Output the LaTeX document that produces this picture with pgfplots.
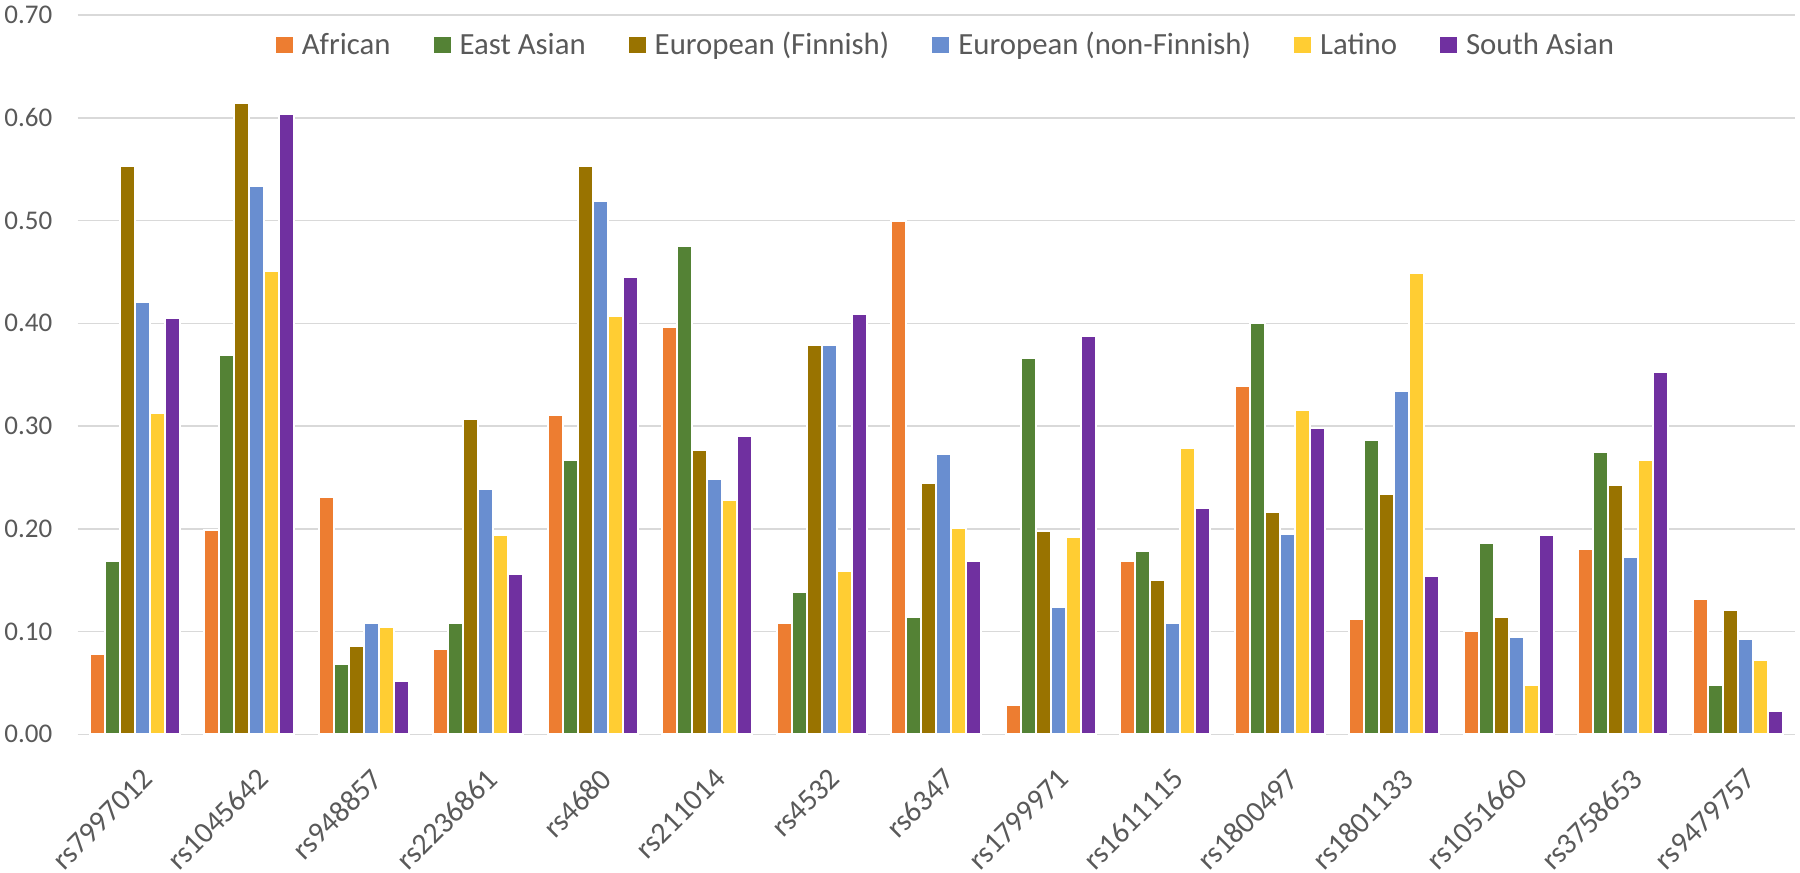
\documentclass[border=0pt]{standalone}
\usepackage{fontspec}
\setmainfont{Carlito}
\usepackage{pgfplots}
\usepackage{pgfplotstable}
\pgfplotsset{compat=1.18}
\definecolor{cAf}{HTML}{ED7D31}
\definecolor{cEa}{HTML}{548235}
\definecolor{cFi}{HTML}{997300}
\definecolor{cNf}{HTML}{698ED0}
\definecolor{cLa}{HTML}{FFCD33}
\definecolor{cSa}{HTML}{7030A0}
\definecolor{gridgray}{HTML}{D9D9D9}
\definecolor{txtgray}{HTML}{595959}
\pgfplotstableread{
x af ea fi nf la sa
0 0.078 0.169 0.553 0.421 0.313 0.405
1 0.199 0.369 0.614 0.534 0.451 0.604
2 0.231 0.068 0.086 0.108 0.104 0.052
3 0.083 0.108 0.307 0.239 0.194 0.156
4 0.311 0.267 0.553 0.519 0.407 0.445
5 0.396 0.475 0.277 0.248 0.228 0.290
6 0.108 0.138 0.379 0.379 0.159 0.409
7 0.500 0.114 0.245 0.273 0.201 0.169
8 0.029 0.366 0.198 0.124 0.192 0.388
9 0.169 0.178 0.150 0.108 0.279 0.220
10 0.339 0.400 0.216 0.195 0.316 0.298
11 0.112 0.286 0.234 0.334 0.449 0.154
12 0.101 0.186 0.114 0.095 0.048 0.194
13 0.180 0.275 0.243 0.173 0.267 0.353
14 0.132 0.048 0.121 0.093 0.072 0.023
}\data
\begin{document}
\begin{tikzpicture}
\path (-38.85pt,-69.35pt) rectangle (861.15pt,367.15pt);
\begin{axis}[
  at={(0,0)}, anchor=south west,
  width=858.65pt, height=359.65pt, scale only axis,
  ybar=0pt, bar width=7.5pt,
  xmin=-0.5, xmax=14.5, ymin=0, ymax=0.7,
  ytick={0,0.1,0.2,0.3,0.4,0.5,0.6,0.7},
  xtick={0,1,2,3,4,5,6,7,8,9,10,11,12,13,14},
  xticklabels={rs7997012,rs1045642,rs948857,rs2236861,rs4680,rs211014,rs4532,rs6347,rs1799971,rs1611115,rs1800497,rs1801133,rs1051660,rs3758653,rs9479757},
  ymajorgrids, grid style={draw=gridgray, line width=0.75pt},
  axis line style={draw=none}, major tick length=0pt,
  yticklabel style={/pgf/number format/fixed, /pgf/number format/fixed zerofill, /pgf/number format/precision=2, /pgf/number format/assume math mode=true, font=\fontsize{13.5}{16}\selectfont, text=txtgray, anchor=east, inner sep=0pt, xshift=-12.5pt},
  xticklabel style={font=\fontsize{15}{18}\selectfont, text=txtgray, inner sep=0pt, xshift=3pt, yshift=-16pt, rotate=45, anchor=north east},
  legend style={at={(0.505,0.958)}, anchor=center, draw=none, fill=none, legend columns=-1, font=\fontsize{15.4}{18}\selectfont, nodes={text=txtgray, inner sep=0pt}, /tikz/every odd column/.append style={column sep=4.5pt}, /tikz/every even column/.append style={column sep=21.5pt}},
  legend image code/.code={\path[#1,draw=none] (0pt,-4pt) rectangle (8.5pt,4pt);},
]
\addplot[fill=cAf, draw=white, line width=1pt] table[x=x,y=af]{\data};
\addplot[fill=cEa, draw=white, line width=1pt] table[x=x,y=ea]{\data};
\addplot[fill=cFi, draw=white, line width=1pt] table[x=x,y=fi]{\data};
\addplot[fill=cNf, draw=white, line width=1pt] table[x=x,y=nf]{\data};
\addplot[fill=cLa, draw=white, line width=1pt] table[x=x,y=la]{\data};
\addplot[fill=cSa, draw=white, line width=1pt] table[x=x,y=sa]{\data};
\legend{African, East Asian, European (Finnish), European (non-Finnish), Latino, South Asian}
\end{axis}
\end{tikzpicture}
\end{document}
